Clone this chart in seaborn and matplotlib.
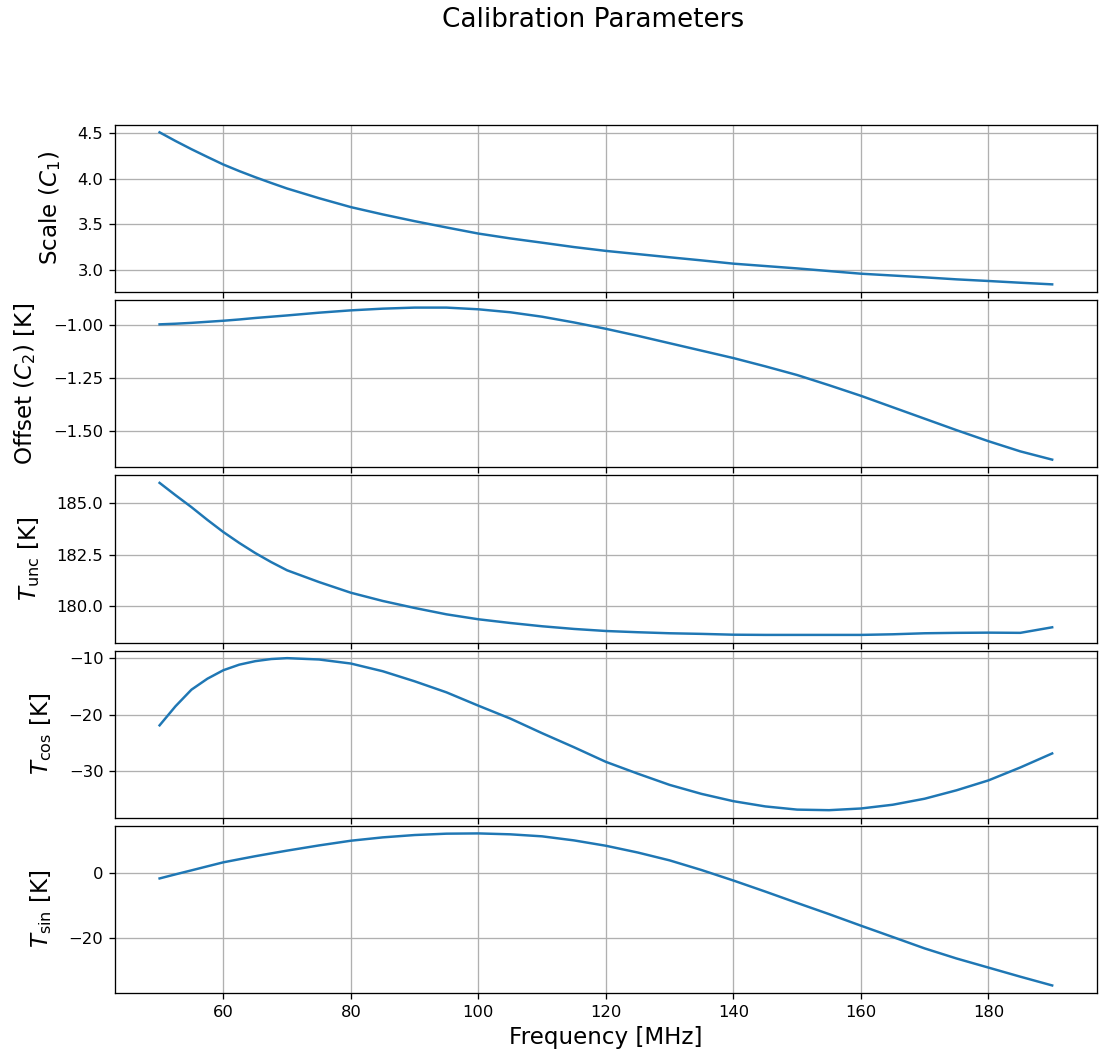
import numpy as np
import pandas as pd
import matplotlib
matplotlib.use("Agg")
import matplotlib.pyplot as plt
from matplotlib.ticker import MultipleLocator
import seaborn as sns

# Frequency grid (MHz)
freq = [50, 52.5, 55, 57.5, 60, 62.5, 65, 67.5, 70, 75, 80, 85, 90, 95, 100,
        105, 110, 115, 120, 125, 130, 135, 140, 145, 150, 155, 160, 165, 170,
        175, 180, 185, 190]

# Scale C1
scale_c1 = [4.51, 4.415, 4.325, 4.24, 4.157, 4.085, 4.018, 3.955, 3.894, 3.788,
            3.69, 3.61, 3.536, 3.467, 3.40, 3.347, 3.30, 3.252, 3.21, 3.175,
            3.14, 3.106, 3.07, 3.044, 3.018, 2.989, 2.96, 2.94, 2.92, 2.898,
            2.88, 2.861, 2.843]

# Offset C2 [K]
offset_c2 = [-0.998, -0.995, -0.991, -0.986, -0.981, -0.975, -0.968, -0.962,
             -0.956, -0.943, -0.932, -0.924, -0.919, -0.919, -0.927, -0.941,
             -0.962, -0.989, -1.019, -1.052, -1.087, -1.122, -1.157, -1.196,
             -1.237, -1.285, -1.335, -1.389, -1.443, -1.497, -1.549, -1.597,
             -1.636]

# T_unc [K]
t_unc = [186.0, 185.4, 184.82, 184.2, 183.61, 183.08, 182.59, 182.15, 181.75,
         181.18, 180.66, 180.26, 179.92, 179.61, 179.37, 179.19, 179.03, 178.90,
         178.80, 178.74, 178.69, 178.66, 178.62, 178.61, 178.61, 178.61, 178.61,
         178.64, 178.69, 178.71, 178.72, 178.71, 178.98]

# T_cos [K]
t_cos = [-21.9, -18.5, -15.55, -13.6, -12.09, -11.1, -10.48, -10.1, -9.94,
         -10.18, -10.9, -12.27, -14.06, -16.03, -18.4, -20.69, -23.3, -25.8,
         -28.4, -30.5, -32.5, -34.1, -35.4, -36.33, -36.9, -37.0, -36.7,
         -36.03, -34.96, -33.46, -31.7, -29.4, -26.9]

# T_sin [K]
t_sin = [-1.66, -0.4, 0.83, 2.07, 3.3, 4.25, 5.18, 6.05, 6.9, 8.5, 9.95, 10.98,
         11.7, 12.12, 12.2, 11.92, 11.3, 10.05, 8.4, 6.32, 3.9, 0.93, -2.3, -5.7,
         -9.2, -12.64, -16.2, -19.69, -23.2, -26.3, -29.1, -31.9, -34.6]

ylabels = [r"Scale ($C_1$)", r"Offset ($C_2$) [K]", r"$T_{\rm unc}$ [K]",
           r"$T_{\rm cos}$ [K]", r"$T_{\rm sin}$ [K]"]
ytick_steps = [0.5, 0.25, 2.5, 10, 20]

df = pd.DataFrame({"freq": freq, "c1": scale_c1, "c2": offset_c2,
                   "tunc": t_unc, "tcos": t_cos, "tsin": t_sin})
columns = ["c1", "c2", "tunc", "tcos", "tsin"]

plt.rcParams.update({
    "font.family": "DejaVu Sans",
    "xtick.labelsize": 10,
    "ytick.labelsize": 10,
    "axes.labelsize": 14,
    "axes.edgecolor": "black",
    "grid.color": "#b0b0b0",
    "grid.linewidth": 0.8,
})

dpi = 118
fig, axes = plt.subplots(5, 1, sharex=True, figsize=(1099 / dpi, 1057 / dpi), dpi=dpi)
fig.subplots_adjust(left=0.1046, right=0.998, top=0.882, bottom=0.0605, hspace=0.048)

for ax, col, lab, step in zip(axes, columns, ylabels, ytick_steps):
    sns.lineplot(data=df, x="freq", y=col, ax=ax, color="#1f77b4", linewidth=1.5)
    ax.set_ylabel(lab, labelpad=9)
    ax.set_xlabel("")
    ax.yaxis.set_major_locator(MultipleLocator(step))
    ax.grid(True)
    ax.tick_params(direction="out", length=3.5, color="black")
    for s in ax.spines.values():
        s.set_color("black")
        s.set_linewidth(0.8)

axes[-1].set_xlabel("Frequency [MHz]")
axes[-1].xaxis.set_major_locator(MultipleLocator(20))

fig.suptitle("Calibration Parameters", fontsize=16, x=0.54, y=0.993, va="top")

fig.savefig("out.png", dpi=dpi)
